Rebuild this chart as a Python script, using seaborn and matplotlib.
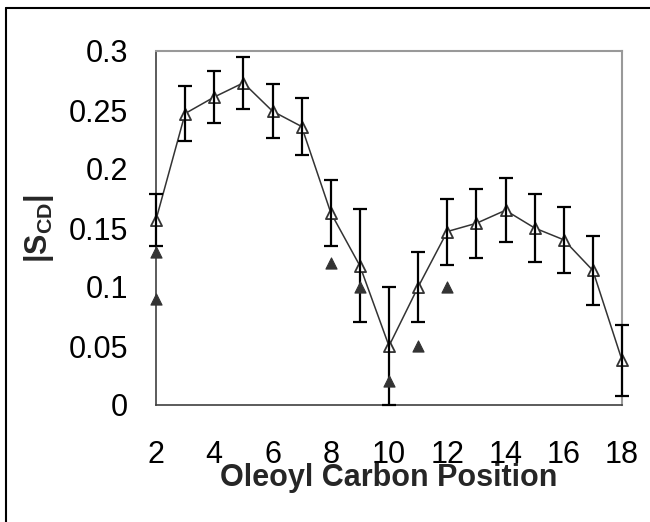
import matplotlib
matplotlib.use("Agg")
import matplotlib.pyplot as plt
from matplotlib.lines import Line2D
import seaborn as sns
import pandas as pd

# ---- data ----
positions = [2, 3, 4, 5, 6, 7, 8, 9, 10, 11, 12, 13, 14, 15, 16, 17, 18]
scd_open = [0.157, 0.247, 0.261, 0.273, 0.249, 0.236, 0.163, 0.118, 0.050,
            0.100, 0.147, 0.154, 0.165, 0.150, 0.140, 0.114, 0.038]
scd_err = [0.022, 0.023, 0.022, 0.022, 0.023, 0.024, 0.028, 0.048, 0.050,
           0.030, 0.028, 0.029, 0.027, 0.029, 0.028, 0.029, 0.030]
filled_pos = [2, 2, 8, 9, 10, 11, 12]
filled_scd = [0.090, 0.130, 0.120, 0.100, 0.020, 0.050, 0.100]
x_ticks = [2, 4, 6, 8, 10, 12, 14, 16, 18]
y_ticks = [0, 0.05, 0.1, 0.15, 0.2, 0.25, 0.3]
y_tick_labels = ["0", "0.05", "0.1", "0.15", "0.2", "0.25", "0.3"]

df_open = pd.DataFrame({"pos": positions, "scd": scd_open, "err": scd_err})
df_filled = pd.DataFrame({"pos": filled_pos, "scd": filled_scd})

# ---- style ----
sns.set_theme(style="white")
plt.rcParams["font.family"] = ["Liberation Sans", "DejaVu Sans"]
plt.rcParams["mathtext.fontset"] = "custom"
plt.rcParams["mathtext.rm"] = "Liberation Sans"
plt.rcParams["mathtext.bf"] = "Liberation Sans:bold"

fig = plt.figure(figsize=(6.5, 5.22), dpi=100)
ax = fig.add_axes([156 / 650, 1 - 405 / 522, (622 - 156) / 650, (405 - 51) / 522])

dark = "#333333"

# connecting line
sns.lineplot(data=df_open, x="pos", y="scd", ax=ax, color=dark, linewidth=1.1,
             zorder=2, legend=False)
# error bars
ax.errorbar(df_open["pos"], df_open["scd"], yerr=df_open["err"], fmt="none",
            ecolor="black", elinewidth=1.6, capsize=5, capthick=1.6,
            zorder=4, clip_on=False)
# open triangles
sns.scatterplot(data=df_open, x="pos", y="scd", ax=ax, marker="^", s=64,
                facecolor="white", edgecolor=dark, linewidth=1.3, zorder=3,
                clip_on=False, legend=False)
# filled triangles
sns.scatterplot(data=df_filled, x="pos", y="scd", ax=ax, marker="^", s=64,
                color=dark, edgecolor=dark, linewidth=0.8, zorder=5,
                clip_on=False, legend=False)

ax.set_xlim(2, 18)
ax.set_ylim(0, 0.3)
ax.set_xticks(x_ticks)
ax.set_xticklabels([str(t) for t in x_ticks])
ax.set_yticks(y_ticks)
ax.set_yticklabels(y_tick_labels)
ax.tick_params(axis="both", length=0, labelsize=22, colors="black")
ax.tick_params(axis="x", pad=25)
ax.tick_params(axis="y", pad=20)

for side in ["left", "bottom"]:
    ax.spines[side].set_color("#404040")
    ax.spines[side].set_linewidth(1.2)
for side in ["top", "right"]:
    ax.spines[side].set_color("#999999")
    ax.spines[side].set_linewidth(1.5)
    ax.spines[side].set_visible(True)

ax.set_xlabel("Oleoyl Carbon Position", fontsize=22, fontweight="bold")
ax.xaxis.set_label_coords(0.5, -0.165)
ax.set_ylabel(r"$\mathbf{|S}_{\mathbf{CD}}\mathbf{|}$", fontsize=22)
ax.yaxis.set_label_coords(-0.214, 0.5)

# outer frame (left and top edges)
fig.add_artist(Line2D([6 / 650, 6 / 650], [0, 1 - 8 / 522],
                      transform=fig.transFigure, color="black", linewidth=1.5))
fig.add_artist(Line2D([6 / 650, 1], [1 - 8 / 522, 1 - 8 / 522],
                      transform=fig.transFigure, color="black", linewidth=1.5))

fig.savefig("out.png", dpi=100)
